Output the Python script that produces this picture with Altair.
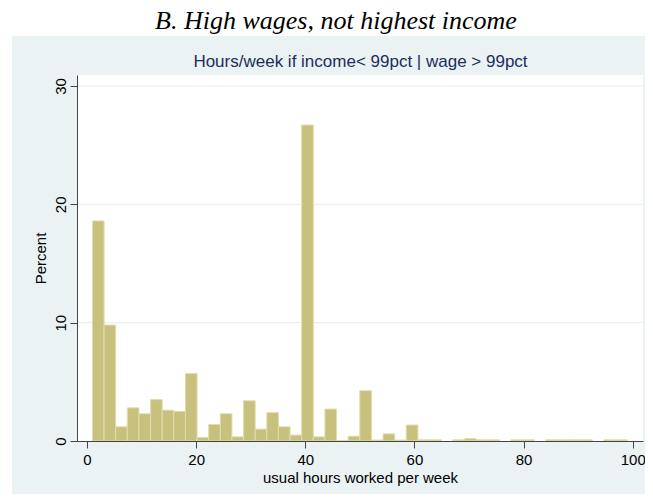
import altair as alt
import pandas as pd

title_text = "B. High wages, not highest income"
subtitle_text = "Hours/week if income< 99pct | wage > 99pct"
x_title = "usual hours worked per week"
y_title = "Percent"

# histogram: bins start at 1 hour, width ~2.13 hours (46 bins up to 99)
hist_start = 1.0
bin_width = 2.13
percent = [18.6, 9.8, 1.2, 2.8, 2.3, 3.5, 2.6, 2.5, 5.7, 0.3,
           1.4, 2.3, 0.35, 3.4, 1.0, 2.4, 1.2, 0.5, 26.7, 0.35,
           2.7, 0.05, 0.4, 4.25, 0.08, 0.6, 0.08, 1.35, 0.1, 0.1,
           0.0, 0.1, 0.2, 0.1, 0.1, 0.0, 0.1, 0.1, 0.0, 0.1,
           0.1, 0.1, 0.1, 0.0, 0.1, 0.1]
bin_index = list(range(len(percent)))

x_ticks = [0, 20, 40, 60, 80, 100]
y_ticks = [0, 10, 20, 30]
grid_values = [10, 20, 30]
x_domain = [-1.83, 101.88]
y_domain = [0, 30.93]

W, H = 566, 366
PANEL = "#eaf2f3"
BAR_FILL = "#c8c17e"
BAR_EDGE = "#e0dcab"
AXIS_COL = "#444444"
FONT = "Liberation Sans"

bins = pd.DataFrame({"bin": bin_index, "pct": percent})
grid_df = pd.DataFrame({"g": grid_values})

x_scale = alt.Scale(domain=x_domain, nice=False, zero=False)
y_scale = alt.Scale(domain=y_domain, nice=False, zero=False)

y_axis = alt.Axis(
    orient="left", values=y_ticks, format="d", title=y_title,
    labelFont=FONT, labelFontSize=15, labelColor="black",
    labelAngle=270, labelAlign="center", labelBaseline="bottom",
    titleFont=FONT, titleFontSize=15, titleFontWeight="normal",
    titleColor="black", tickSize=7, tickColor=AXIS_COL,
    domainColor=AXIS_COL, labelPadding=2, titlePadding=5,
    grid=False, labelFlush=False, labelOverlap=False, zindex=1)

x_axis = alt.Axis(
    orient="bottom", values=x_ticks, format="d", title=x_title,
    labelFont=FONT, labelFontSize=15, labelColor="black",
    titleFont=FONT, titleFontSize=15, titleFontWeight="normal",
    titleColor="black", tickSize=7, tickColor=AXIS_COL,
    domainColor=AXIS_COL, labelPadding=4, titlePadding=3,
    grid=False, labelFlush=False, labelOverlap=False, zindex=1)

# light graph-region panel behind the plot area
panel = alt.Chart(alt.Data(values=[{}])).mark_rect(color=PANEL).encode(
    x=alt.value(-65), x2=alt.value(W + 2), y=alt.value(-39), y2=alt.value(H + 53)
)

# white plot region, carrying the subtitle as a top-axis title
plot_bg = alt.Chart(
    alt.Data(values=[{"lo": x_domain[0], "hi": x_domain[1]}])
).mark_rect(color="white").encode(
    x=alt.X("lo:Q", scale=x_scale, axis=alt.Axis(
        orient="top", title=subtitle_text, labels=False, ticks=False,
        domain=False, grid=False, titleFont=FONT, titleFontSize=17,
        titleFontWeight="normal", titleColor="#1e2d5c", titlePadding=5,
        zindex=1)),
    x2="hi:Q",
    y=alt.value(0), y2=alt.value(H),
)

grid = alt.Chart(grid_df).mark_rule(color="#e4edef", strokeWidth=1).encode(
    y=alt.Y("g:Q", scale=y_scale, axis=y_axis)
)

bars = alt.Chart(bins).transform_filter("datum.pct > 0").transform_calculate(
    lo=f"{hist_start} + datum.bin * {bin_width}",
    hi=f"{hist_start} + (datum.bin + 1) * {bin_width}",
).mark_rect(fill=BAR_FILL, stroke=BAR_EDGE, strokeWidth=1).encode(
    x=alt.X("lo:Q", scale=x_scale, axis=x_axis),
    x2="hi:Q",
    y=alt.Y("pct:Q", scale=y_scale, axis=y_axis),
    y2=alt.datum(0),
)

chart = alt.layer(panel, plot_bg, grid, bars).resolve_scale(
    x="independent"
).properties(
    width=W, height=H,
    autosize=alt.AutoSizeParams(type="none"),
    padding={"left": 69, "top": 67, "right": 2, "bottom": 53},
    background="white",
    title=alt.TitleParams(
        title_text, font="Liberation Serif", fontStyle="italic",
        fontSize=26, fontWeight="normal", color="black",
        anchor="middle", dx=-24, offset=-19, baseline="alphabetic"),
).configure_view(stroke=None)

chart.save("out.html", embed_options={"renderer": "svg", "actions": False})
